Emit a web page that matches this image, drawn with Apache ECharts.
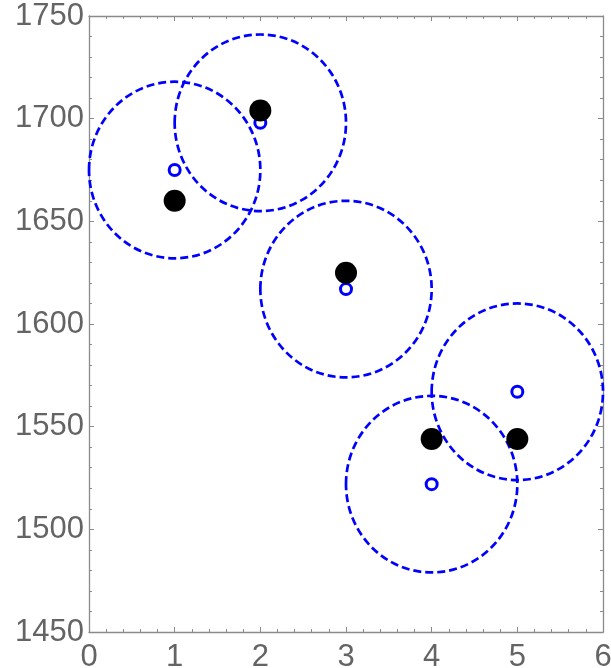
<!DOCTYPE html>
<html><head><meta charset="utf-8">
<script src="https://cdn.jsdelivr.net/npm/echarts@6/dist/echarts.min.js"></script>
<style>html,body{margin:0;padding:0;background:#fff}#c{width:611px;height:668px}</style>
</head><body><div id="c"></div>
<script>
const xs = [1, 2, 3, 4, 5];
const observed = [1660, 1704, 1625, 1544, 1544];
const predicted = [1675, 1698, 1617, 1522, 1567];
const radiusX = [1, 1, 1, 1, 1];
const radiusY = [43, 43, 43, 43, 43];
const xTicks = [0, 1, 2, 3, 4, 5, 6];
const yTicks = [1450, 1500, 1550, 1600, 1650, 1700, 1750];

const gray = '#8a8a8a';
const labelColor = '#646464';
const font = 'Liberation Sans';

function axisCommon(show, margin){
  return {
    axisLine:{show:true,onZero:false,lineStyle:{color:gray,width:1.3}},
    axisTick:{show:true,inside:true,length:5,lineStyle:{color:gray,width:1}},
    minorTick:{show:true,splitNumber:5,length:3,lineStyle:{color:gray,width:1}},
    splitLine:{show:false},
    axisLabel:{show:show,color:labelColor,fontSize:31,fontFamily:font,margin:margin,
      formatter:function(v){return String(v);}}
  };
}

const ellipseData = xs.map((x,i)=>[x, predicted[i], radiusX[i], radiusY[i]]);

const chart = echarts.init(document.getElementById('c'), null, {renderer:'canvas'});
chart.setOption({
  animation:false,
  grid:{left:89,right:8,top:16,bottom:36,containLabel:false,outerBoundsMode:'none'},
  xAxis:[
    Object.assign({type:'value',min:xTicks[0],max:xTicks[xTicks.length-1],interval:1,position:'bottom'},axisCommon(true,10)),
    Object.assign({type:'value',min:xTicks[0],max:xTicks[xTicks.length-1],interval:1,position:'top'},axisCommon(false,5))
  ],
  yAxis:[
    Object.assign({type:'value',min:yTicks[0],max:yTicks[yTicks.length-1],interval:50,position:'left'},axisCommon(true,5)),
    Object.assign({type:'value',min:yTicks[0],max:yTicks[yTicks.length-1],interval:50,position:'right'},axisCommon(false,5))
  ],
  series:[
    {
      type:'custom',
      xAxisIndex:0,yAxisIndex:0,
      data:ellipseData,
      clip:false,
      renderItem:function(params,api){
        const c = api.coord([api.value(0),api.value(1)]);
        const s = api.size([api.value(2),api.value(3)]);
        return {
          type:'ellipse',
          shape:{cx:c[0],cy:c[1],rx:s[0],ry:s[1]},
          style:{fill:null,stroke:'#0000ff',lineWidth:2.7,lineDash:[8,4]}
        };
      },
      z:2
    },
    {
      type:'scatter',
      data:xs.map((x,i)=>[x,predicted[i]]),
      symbol:'circle',symbolSize:11,
      itemStyle:{color:'#ffffff',borderColor:'#0000ff',borderWidth:3,opacity:1},
      z:3
    },
    {
      type:'scatter',
      data:xs.map((x,i)=>[x,observed[i]]),
      symbol:'circle',symbolSize:22,
      itemStyle:{color:'#000000',opacity:1},
      z:4
    }
  ]
});
</script></body></html>
